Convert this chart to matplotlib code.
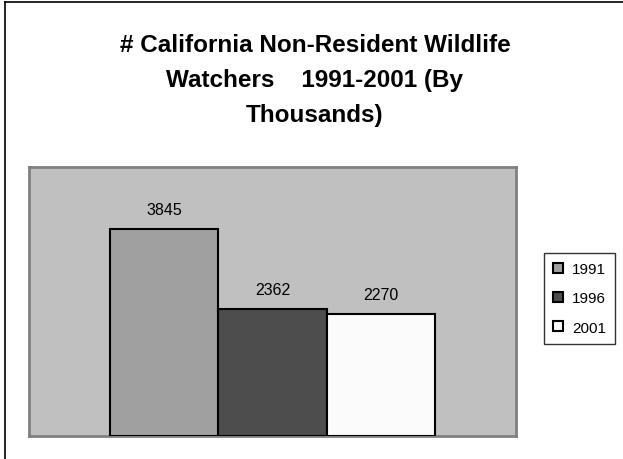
import matplotlib
matplotlib.use('Agg')
import matplotlib.pyplot as plt
from matplotlib.lines import Line2D
from matplotlib.patches import Patch

plt.rcParams['font.family'] = ['Liberation Sans', 'DejaVu Sans']

# Data
years = ['1991', '1996', '2001']
watchers = [3845, 2362, 2270]
bar_colors = ['#a0a0a0', '#4d4d4d', '#fbfbfb']

fig = plt.figure(figsize=(6.23, 4.60), dpi=100)

# outer chart border (only left/top visible in reference)
fig.add_artist(Line2D([5/623, 5/623], [0, 1 - 3/460], color='black', lw=1.2, transform=fig.transFigure))
fig.add_artist(Line2D([5/623, 1], [1 - 3/460, 1 - 3/460], color='black', lw=1.2, transform=fig.transFigure))

ax = fig.add_axes([29/623, 23/460, (516 - 29)/623, (437 - 168)/460])
ax.set_facecolor('#c0c0c0')
for s in ax.spines.values():
    s.set_color('#808080')
    s.set_linewidth(2)

w = 1 / 4.5
for i, (yr, v, c) in enumerate(zip(years, watchers, bar_colors)):
    x = (i - 1) * w
    ax.bar(x, v, width=w, color=c, edgecolor='black', linewidth=1.5, zorder=3)
    ax.annotate(str(v), (x, v), xytext=(0, 8.5), textcoords='offset points',
                ha='center', va='bottom', fontsize=11.5)

ax.set_xlim(-0.5, 0.5)
ax.set_ylim(0, 5000)
ax.set_xticks([])
ax.set_yticks([])

fig.text(315/623, 1 - 80.5/460,
         '# California Non-Resident Wildlife\nWatchers    1991-2001 (By\nThousands)',
         ha='center', va='center', fontsize=17.5, fontweight='bold', linespacing=1.65)

handles = [Patch(facecolor=c, edgecolor='black', linewidth=1.5) for c in bar_colors]
leg = fig.legend(handles, years, loc='upper left', bbox_to_anchor=(544/623, 1 - 254/460),
                 fontsize=11, frameon=True, fancybox=False, handlelength=0.65, handleheight=0.65,
                 handletextpad=0.6, labelspacing=1.0, borderpad=0.6, borderaxespad=0)
leg.get_frame().set_edgecolor('black')
leg.get_frame().set_linewidth(1)

fig.savefig('out.png', dpi=100)
